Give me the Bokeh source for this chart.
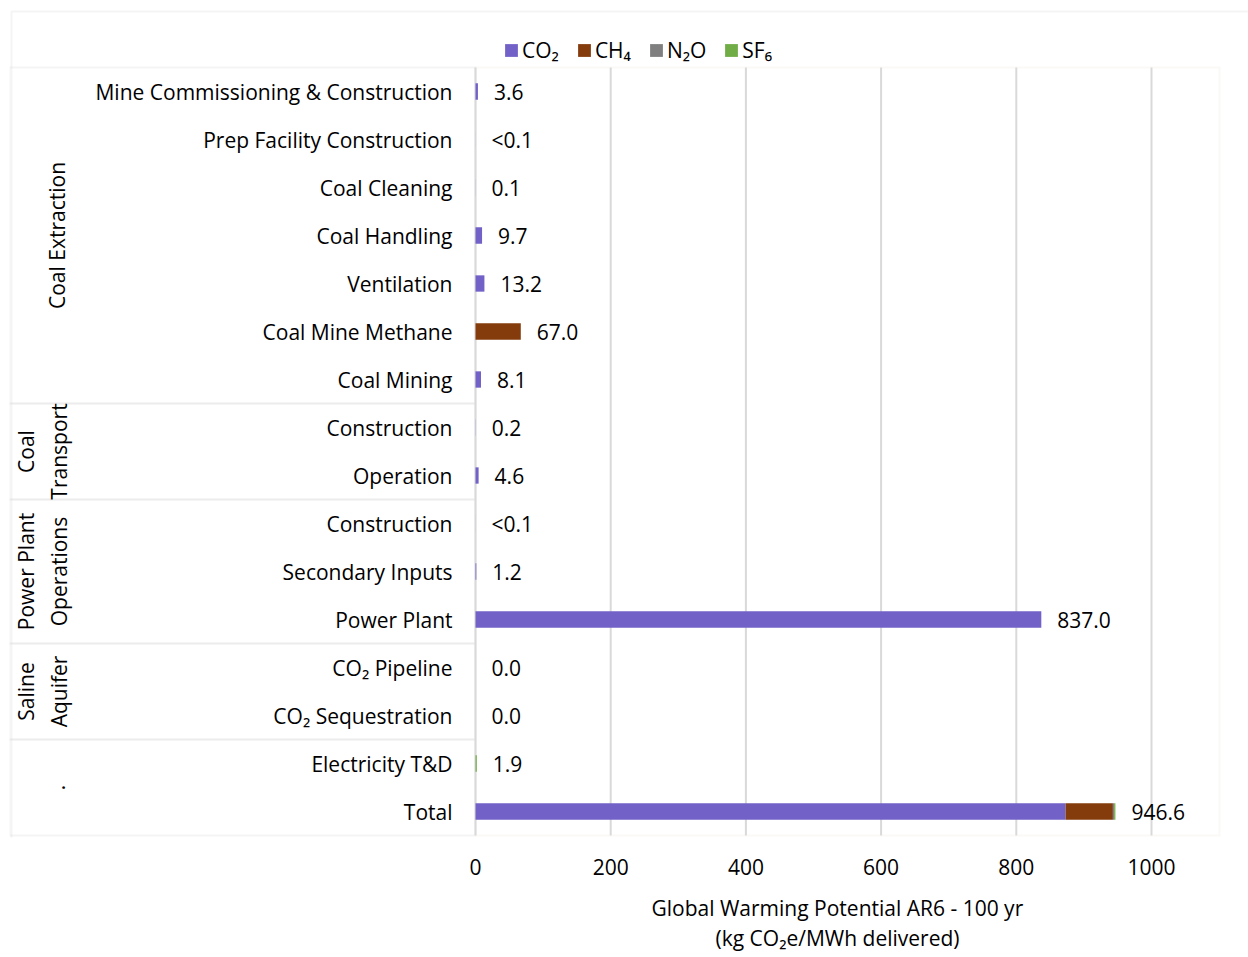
import math
from bokeh.plotting import figure
from bokeh.models import (Range1d, FixedTicker, Legend, LegendItem, Title,
                          BoxAnnotation, ColumnDataSource)
from bokeh.core.properties import value
from bokeh.embed import file_html
from bokeh.resources import INLINE

# ---------------- data ----------------
categories = [
    "Mine Commissioning & Construction", "Prep Facility Construction",
    "Coal Cleaning", "Coal Handling", "Ventilation", "Coal Mine Methane",
    "Coal Mining", "Construction", "Operation", "Construction",
    "Secondary Inputs", "Power Plant", "CO₂ Pipeline", "CO₂ Sequestration",
    "Electricity T&D", "Total",
]
groups = ["Coal Extraction", "Coal\nTransport", "Power Plant\nOperations", "Saline\nAquifer", "."]
group_sizes = [7, 2, 3, 2, 2]

co2 = [3.6, 0.05, 0.1, 9.7, 13.2, 0.0, 8.1, 0.2, 4.6, 0.05, 1.2, 837.0, 0.0, 0.0, 0.0, 872.9]
ch4 = [0.0, 0.0, 0.0, 0.0, 0.0, 67.0, 0.0, 0.0, 0.0, 0.0, 0.0, 0.0, 0.0, 0.0, 0.0, 70.0]
n2o = [0.0, 0.0, 0.0, 0.0, 0.0, 0.0, 0.0, 0.0, 0.0, 0.0, 0.0, 0.0, 0.0, 0.0, 0.0, 1.8]
sf6 = [0.0, 0.0, 0.0, 0.0, 0.0, 0.0, 0.0, 0.0, 0.0, 0.0, 0.0, 0.0, 0.0, 0.0, 1.9, 1.9]
value_labels = ["3.6", "<0.1", "0.1", "9.7", "13.2", "67.0", "8.1", "0.2", "4.6",
                "<0.1", "1.2", "837.0", "0.0", "0.0", "1.9", "946.6"]

gases = ["CO2", "CH4", "N2O", "SF6"]
gas_labels = ["CO₂", "CH₄", "N₂O", "SF₆"]
gas_colors = ["#7262C8", "#843C0C", "#7F7F7F", "#70AD47"]

x_ticks = [0, 200, 400, 600, 800, 1000]
axis_title = ["Global Warming Potential AR6 - 100 yr", "(kg CO₂e/MWh delivered)"]

# ---------------- layout constants ----------------
FONT = "Open Sans"
FS = "21px"
TXT = "#000000"
GRAY = "#D9D9D9"
BEIGE = "#EFECE2"
PX_PER_UNIT = 0.676
ZERO_PX = 475          # pixel of x = 0
ROW0_PX = 67           # pixel of the top of the first row
ROW_PX = 48
F_LEFT, F_RIGHT, F_TOP, F_BOTTOM = 9, 1248, 9, 837
PLOT_RIGHT_PX = 1219
n = len(categories)

x_start = -(ZERO_PX - F_LEFT) / PX_PER_UNIT
x_end = (F_RIGHT - ZERO_PX) / PX_PER_UNIT
plot_right = (PLOT_RIGHT_PX - ZERO_PX) / PX_PER_UNIT
y_top = (F_TOP - ROW0_PX) / ROW_PX
y_bottom = (F_BOTTOM - ROW0_PX) / ROW_PX

ys = [i + 0.5 for i in range(n)]
totals = [a + b + c + d for a, b, c, d in zip(co2, ch4, n2o, sf6)]

p = figure(frame_width=F_RIGHT - F_LEFT, frame_height=F_BOTTOM - F_TOP,
           x_range=Range1d(x_start, x_end), y_range=Range1d(y_bottom, y_top),
           output_backend="svg", toolbar_location=None,
           min_border_left=F_LEFT, min_border_right=1248 - F_RIGHT,
           min_border_top=F_TOP, min_border_bottom=957 - F_BOTTOM,
           y_axis_location=None)
p.background_fill_color = "white"
p.border_fill_color = "white"
p.outline_line_color = None
p.xgrid.visible = False
p.ygrid.visible = False

ax = p.xaxis[0]
ax.ticker = FixedTicker(ticks=x_ticks)
ax.axis_line_color = None
ax.major_tick_line_color = None
ax.minor_tick_line_color = None
ax.major_tick_out = 0
ax.major_label_standoff = 21
ax.major_label_text_font = FONT
ax.major_label_text_font_size = FS
ax.major_label_text_color = TXT
# tiny blank axis label: only used as a spacer between tick labels and the title
ax.axis_label = " "
ax.axis_label_text_font_size = "1px"
ax.axis_label_standoff = 10

# axis title: two lines centred under the plot area (approx. text widths at 21px)
title_center_px = 837
approx_w = [372, 244]
for t, w in zip(axis_title, approx_w):
    p.add_layout(Title(text=t, align="left", offset=title_center_px - w / 2 - F_LEFT,
                       text_font=FONT, text_font_size=FS, text_font_style="normal",
                       text_color=TXT, standoff=0), "below")

# borders
p.add_layout(BoxAnnotation(left=x_start + 2 / PX_PER_UNIT, right=x_end * 3,
                           top=y_top + 2 / ROW_PX, bottom=n + 20,
                           fill_color=None, line_color=GRAY, line_width=2, level="annotation"))
p.add_layout(BoxAnnotation(left=0, right=plot_right, top=0, bottom=n,
                           fill_color=None, line_color=BEIGE, line_width=2, level="underlay"))
start = 0
g_centers = []
for size in group_sizes:
    p.add_layout(BoxAnnotation(left=x_start, right=0, top=start, bottom=start + size,
                               fill_color=None, line_color=GRAY, line_width=2, level="underlay"))
    g_centers.append(start + size / 2)
    start += size

# vertical grid lines at the tick values (only inside the plot area)
p.segment(x0=x_ticks, y0=0, x1=x_ticks, y1=n, line_color=GRAY, line_width=2)

# bars
source = ColumnDataSource(dict(y=ys, CO2=co2, CH4=ch4, N2O=n2o, SF6=sf6))
rs = p.hbar_stack(gases, y="y", height=0.34, fill_color=gas_colors, line_color=None, source=source)

# category labels
p.text(x=0, y=ys, text=categories, x_offset=-23, text_align="right", text_baseline="middle",
       text_font=value(FONT), text_font_size=FS, text_color=TXT)

# group labels
g_offsets = [56 - F_LEFT if "\n" not in g else 42 - F_LEFT for g in groups]
p.text(x=x_start, y=g_centers, text=groups, x_offset=g_offsets, angle=math.pi / 2,
       text_align="center", text_baseline="middle", text_line_height=1.2,
       text_font=value(FONT), text_font_size=FS, text_color=TXT)

# value labels
p.text(x=totals, y=ys, text=value_labels, x_offset=16, text_align="left", text_baseline="middle",
       text_font=value(FONT), text_font_size=FS, text_color=TXT)

# legend (inside the frame, above the plot area)
LEG_H = 26
legend = Legend(items=[LegendItem(label=lab, renderers=[r]) for lab, r in zip(gas_labels, rs)],
                orientation="horizontal",
                location=(503 - F_LEFT, (F_BOTTOM - F_TOP) - (51 - F_TOP) - LEG_H // 2),
                label_text_font=FONT, label_text_font_size=FS, label_text_color=TXT,
                glyph_width=16, glyph_height=16, label_standoff=3, spacing=17,
                padding=0, margin=0, border_line_color=None, background_fill_alpha=0)
p.add_layout(legend)

open("out.html", "w").write(file_html(p, INLINE))
